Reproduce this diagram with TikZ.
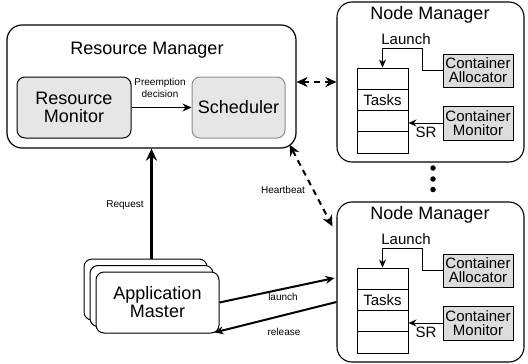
\documentclass[tikz,border=0pt]{standalone}
\usepackage{fontspec}
\setmainfont{Liberation Sans}
\usetikzlibrary{arrows.meta,calc}
\definecolor{boxgray}{HTML}{E6E6E6}
\definecolor{contgray}{HTML}{DCDCDC}
\definecolor{schborder}{HTML}{8C8C8C}
\begin{document}
\begin{tikzpicture}[x=1pt,y=-1pt,
  big/.style={font=\fontsize{18}{20}\selectfont},
  mid/.style={font=\fontsize{15}{16}\selectfont},
  small/.style={font=\fontsize{10}{11.5}\selectfont},
  outerbox/.style={draw,line width=1.1pt,rounded corners=15pt,inner sep=0pt},
  graybox/.style={draw,line width=1pt,rounded corners=8pt,fill=boxgray,inner sep=0pt,align=center,big},
  taskcell/.style={draw,line width=0.9pt,minimum width=51pt,minimum height=21.25pt,inner sep=0pt,mid},
  contbox/.style={draw,line width=0.9pt,fill=contgray,minimum width=70pt,inner sep=0pt,align=center,mid},
  arr/.style={-{Stealth[length=9pt,width=8pt]},line width=1.2pt},
  thickarr/.style={-{Stealth[length=12pt,width=11pt]},line width=2.8pt},
  dasharr/.style={{Stealth[length=11pt,width=10pt]}-{Stealth[length=11pt,width=10pt]},line width=2pt,dash pattern=on 6pt off 5pt},
  dot/.style={circle,fill,inner sep=0pt,minimum size=5.5pt}
]
\useasboundingbox (0,0) rectangle (528,364);

% Resource Manager
\node[outerbox,line width=1.2pt,minimum width=289pt,minimum height=123pt] (rm) at (151.5,86.5) {};
\node[big] (rmt) at (147,50) {Resource Manager};
\node[graybox,minimum width=114pt,minimum height=61pt] (mon) at (74,107.5) {Resource\\[-2pt]Monitor};
\node[graybox,draw=schborder,minimum width=93pt,minimum height=61pt] (sch) at (238.5,107.5) {Scheduler};
\draw[arr] (mon.east |- sch.west) -- (sch.west);
\node[small,align=center] (pd) at (160,88) {Preemption\\decision};

% Node Managers
\foreach \s/\dy in {a/0,b/200}{
  \node[outerbox,minimum width=187pt,minimum height=160pt] (nm\s) at (430.5,82+\dy) {};
  \node[big] (nmt\s) at (430,15+\dy) {Node Manager};
  \node[taskcell] (t1\s) at (382.5,78.6+\dy) {};
  \node[taskcell] (t2\s) at (382.5,99.9+\dy) {Tasks};
  \node[taskcell] (t3\s) at (382.5,121.1+\dy) {};
  \node[taskcell] (t4\s) at (382.5,142.4+\dy) {};
  \node[contbox,minimum height=33pt] (ca\s) at (478,70.5+\dy) {Container\\[-2pt]Allocator};
  \node[contbox,minimum height=34pt] (cm\s) at (478,123+\dy) {Container\\[-2pt]Monitor};
  \node[mid] (la\s) at (406,39+\dy) {Launch};
  \draw[-{Stealth[length=8pt,width=7pt]},line width=0.9pt] (ca\s.west) -- ++(-20,0) |- ([yshift=19pt]t1\s.north) -- (t1\s.north);
  \draw[-{Stealth[length=8pt,width=7pt]},line width=0.9pt] (cm\s.west) -- (cm\s.west -| t3\s.east);
  \node[mid] (sr\s) at (426,132+\dy) {SR};
}

% dots
\node[dot] (d1) at (433,168) {};
\node[dot] (d2) at (433,179) {};
\node[dot] (d3) at (433,189.5) {};

% Application Master stack
\node[draw,line width=1pt,rounded corners=8pt,fill=white,minimum width=123pt,minimum height=61pt] (am3) at (145.5,289.5) {};
\node[draw,line width=1pt,rounded corners=8pt,fill=white,minimum width=123pt,minimum height=61pt] (am2) at (151.5,296) {};
\node[draw,line width=1pt,rounded corners=8pt,fill=white,minimum width=123pt,minimum height=61pt,align=center,big] (am1) at (157.5,302.5) {Application\\[-2pt]Master};

% connectors
\draw[dasharr] (rm.east |- nma.west) -- (nma.west);
\draw[dasharr] ([shift={(-7,-4)}]rm.south east) -- ([shift={(-4,25)}]nmb.north west);
\node[small] (hb) at (283,190) {Heartbeat};
\draw[thickarr] (am3.north -| rm.south) -- (rm.south);
\node[small] (rq) at (125,205) {Request};
\draw[arr,line width=2pt] (am1.east) -- ([shift={(-2,-4)}]nmb.west);
\node[small] (lch) at (283,297) {launch};
\draw[arr,line width=2pt] ([yshift=-20pt]nmb.west) -- ([shift={(-5,-1)}]am1.south east);
\node[small] (rel) at (284,332) {release};
\end{tikzpicture}
\end{document}
